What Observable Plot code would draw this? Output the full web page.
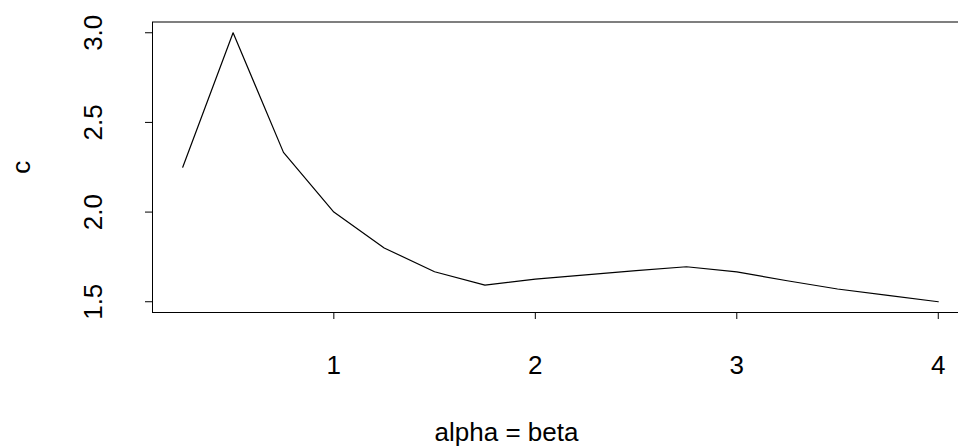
<!DOCTYPE html>
<html><head><meta charset="utf-8">
<script src="https://cdn.jsdelivr.net/npm/d3@7"></script>
<script src="https://cdn.jsdelivr.net/npm/@observablehq/plot@0.6"></script>
<style>html,body{margin:0;padding:0;background:#fff;overflow:hidden}</style>
</head><body><div id="chart"></div>
<script>
const alphaBeta = [0.25, 0.5, 0.75, 1.0, 1.25, 1.5, 1.75, 2.0, 2.25, 2.5, 2.75, 3.0, 3.25, 3.5, 3.75, 4.0];
const cValues   = [2.25, 3.0, 2.333, 2.0, 1.8, 1.667, 1.593, 1.626, 1.65, 1.673, 1.695, 1.667, 1.617, 1.571, 1.535, 1.5];
const xTicks = [1, 2, 3, 4];
const yTicks = [1.5, 2.0, 2.5, 3.0];
const xTitle = "alpha = beta";
const yTitle = "c";

const data = alphaBeta.map((a, i) => ({a, c: cValues[i]}));
const font = "'Liberation Sans', Arial, Helvetica, sans-serif";
const fs = 26;

const chart = Plot.plot({
  width: 958,
  height: 447,
  marginLeft: 152,
  marginRight: -10,
  marginTop: 21.5,
  marginBottom: 135,
  style: {fontFamily: font, fontSize: fs + "px", color: "black", background: "white", overflow: "hidden"},
  x: {domain: [0.1, 4.15], range: [152, 968]},
  y: {domain: [1.44, 3.06], range: [312, 21.5]},
  marks: [
    Plot.frame({stroke: "black", strokeWidth: 1}),
    Plot.axisX({ticks: xTicks, tickSize: 7, tickPadding: 36.5, fontSize: fs, label: null, tickFormat: d => String(d), stroke: "black", fill: "black"}),
    Plot.axisY({ticks: yTicks, tickSize: 7, tickPadding: 43.5, tickRotate: -90, fontSize: fs, label: null, tickFormat: d3.format(".1f"), stroke: "black", fill: "black"}),
    Plot.line(data, {x: "a", y: "c", stroke: "black", strokeWidth: 1.2}),
    Plot.text([xTitle], {frameAnchor: "bottom", textAnchor: "middle", lineAnchor: "bottom", dx: -54, dy: 128.5, fontSize: fs, fill: "black"}),
    Plot.text([yTitle], {frameAnchor: "left", textAnchor: "middle", lineAnchor: "bottom", rotate: -90, dx: -123, dy: 0, fontSize: fs, fill: "black"})
  ]
});
document.getElementById("chart").appendChild(chart);
</script>
</body></html>
